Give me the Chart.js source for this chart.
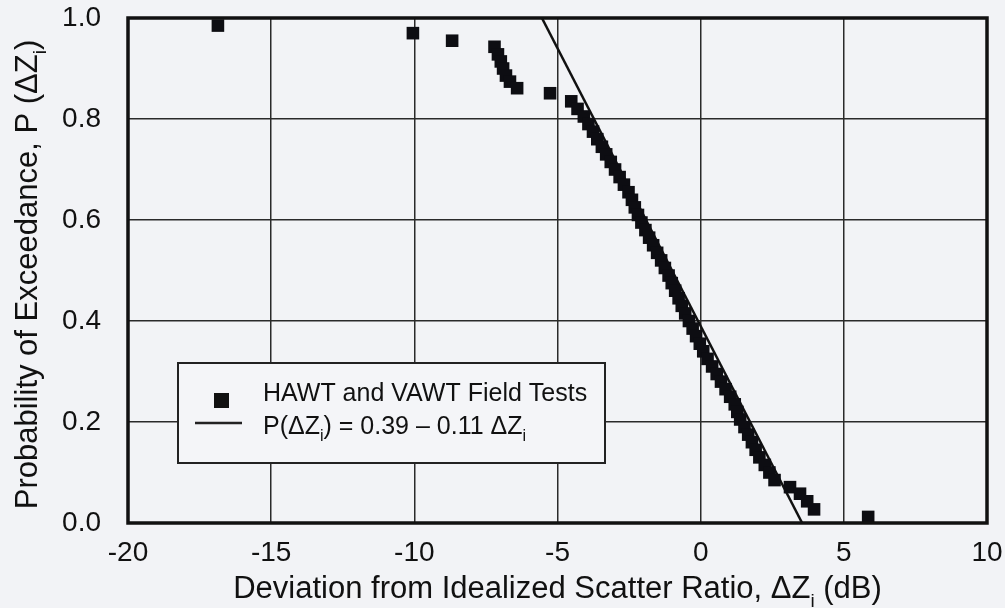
<!DOCTYPE html>
<html>
<head>
<meta charset="utf-8">
<script src="https://cdn.jsdelivr.net/npm/chart.js@4"></script>
<style>
  body { margin: 0; background: #f2f3f6; }
  canvas { display: block; }
</style>
</head>
<body>
<canvas id="chart" width="1005" height="608"></canvas>
<script>
// field test points
const testX = [
  -16.86, -10.05, -8.68,
  -7.20, -7.08, -6.98, -6.90, -6.80, -6.66, -6.41,
  -5.26,
  -4.52, -4.30, -4.08, -3.92, -3.76, -3.61, -3.45, -3.30, -3.14, -2.99,
  -2.83, -2.68, -2.52, -2.40, -2.30, -2.19, -2.07, -1.93, -1.80, -1.66,
  -1.52, -1.38, -1.25, -1.12, -1.01, -0.89, -0.77, -0.66, -0.54, -0.41,
  -0.28, -0.16, -0.03, 0.09, 0.24, 0.40, 0.56, 0.71, 0.87, 1.03,
  1.19, 1.28, 1.38, 1.53, 1.66, 1.79, 1.92, 2.05, 2.24, 2.40, 2.58,
  3.12, 3.47, 3.72, 3.96,
  5.85
];
const testY = [
  0.985, 0.970, 0.955,
  0.943, 0.928, 0.914, 0.900, 0.886, 0.874, 0.861,
  0.851,
  0.835, 0.820, 0.805, 0.790, 0.775, 0.760, 0.745, 0.730, 0.715, 0.700,
  0.685, 0.670, 0.655, 0.640, 0.625, 0.610, 0.595, 0.580, 0.565, 0.550,
  0.535, 0.520, 0.505, 0.490, 0.475, 0.460, 0.445, 0.430, 0.415, 0.400,
  0.385, 0.370, 0.355, 0.340, 0.325, 0.310, 0.295, 0.280, 0.265, 0.250,
  0.235, 0.220, 0.205, 0.190, 0.175, 0.160, 0.145, 0.130, 0.115, 0.100, 0.085,
  0.071, 0.058, 0.043, 0.027,
  0.012
];

// fitted line P = 0.39 - 0.11 dZ, end points where it leaves the frame
const fitX = [-5.545, 3.545];
const fitY = [1.0, 0.0];

const xTicks = [-20, -15, -10, -5, 0, 5, 10];
const yTicks = [0, 0.2, 0.4, 0.6, 0.8, 1.0];

const FONT = '"Liberation Sans", Arial, sans-serif';

// text with subscript parts
function drawRich(ctx, parts, x, y, size, align) {
  let total = 0;
  parts.forEach(p => {
    ctx.font = (p.sub ? Math.round(size * 0.62) : size) + 'px ' + FONT;
    p.w = ctx.measureText(p.t).width;
    total += p.w;
  });
  let cx = align === 'left' ? x : x - total / 2;
  ctx.textAlign = 'left';
  ctx.textBaseline = 'alphabetic';
  parts.forEach(p => {
    ctx.font = (p.sub ? Math.round(size * 0.62) : size) + 'px ' + FONT;
    ctx.fillText(p.t, cx, y + (p.sub ? size * 0.28 : 0));
    cx += p.w;
  });
}

const paperPlugin = {
  id: 'paper',
  beforeDraw(chart) {
    const ctx = chart.ctx;
    ctx.save();
    ctx.fillStyle = '#f2f3f6';
    ctx.fillRect(0, 0, chart.width, chart.height);
    ctx.restore();
  },
  afterDraw(chart) {
    const ctx = chart.ctx;
    const a = chart.chartArea;
    ctx.save();
    ctx.strokeStyle = '#111';
    ctx.lineWidth = 3.5;
    ctx.strokeRect(a.left, a.top, a.right - a.left, a.bottom - a.top);

    ctx.fillStyle = '#111';
    // x title
    drawRich(ctx, [
      { t: 'Deviation from Idealized Scatter Ratio, \u0394Z' },
      { t: 'i', sub: true },
      { t: ' (dB)' }
    ], (a.left + a.right) / 2, 598, 31);

    // y title
    ctx.save();
    ctx.translate(37, (a.top + a.bottom) / 2 + 4);
    ctx.rotate(-Math.PI / 2);
    drawRich(ctx, [
      { t: 'Probability of Exceedance, P (\u0394Z' },
      { t: 'i', sub: true },
      { t: ')' }
    ], 0, 0, 31);
    ctx.restore();

    // legend box
    const lx = a.left + 50, ly = a.top + 345, lw = 427, lh = 100;
    ctx.fillStyle = '#f4f5f8';
    ctx.fillRect(lx, ly, lw, lh);
    ctx.lineWidth = 2;
    ctx.strokeStyle = '#222';
    ctx.strokeRect(lx, ly, lw, lh);

    ctx.fillStyle = '#111';
    ctx.fillRect(lx + 36, ly + 30, 15, 15);
    drawRich(ctx, [{ t: 'HAWT and VAWT Field Tests' }], lx + 85, ly + 38, 25, 'left');

    ctx.beginPath();
    ctx.lineWidth = 2.5;
    ctx.moveTo(lx + 17, ly + 60);
    ctx.lineTo(lx + 64, ly + 60);
    ctx.stroke();
    drawRich(ctx, [
      { t: 'P(\u0394Z' },
      { t: 'i', sub: true },
      { t: ') = 0.39 \u2013 0.11 \u0394Z' },
      { t: 'i', sub: true }
    ], lx + 85, ly + 71, 25, 'left');
    ctx.restore();
  }
};

const ctx = document.getElementById('chart').getContext('2d');
new Chart(ctx, {
  type: 'scatter',
  data: {
    datasets: [
      {
        label: 'HAWT and VAWT Field Tests',
        data: testX.map((x, i) => ({ x: x, y: testY[i] })),
        pointStyle: 'rect',
        pointRadius: 8.9,
        pointHoverRadius: 8.9,
        backgroundColor: '#0d0d12',
        borderColor: '#0d0d12',
        borderWidth: 0
      },
      {
        label: 'P(\u0394Zi) = 0.39 \u2013 0.11 \u0394Zi',
        type: 'line',
        data: fitX.map((x, i) => ({ x: x, y: fitY[i] })),
        borderColor: '#111',
        borderWidth: 2.5,
        pointRadius: 0,
        fill: false
      }
    ]
  },
  options: {
    responsive: false,
    animation: false,
    layout: { padding: { left: 0, top: 18, right: 18, bottom: 0 } },
    plugins: {
      legend: { display: false },
      tooltip: { enabled: false }
    },
    scales: {
      x: {
        type: 'linear',
        min: -20,
        max: 10,
        afterBuildTicks: s => { s.ticks = xTicks.map(v => ({ value: v })); },
        afterFit: s => { s.height = 85; s.paddingLeft = 0; s.paddingRight = 0; },
        grid: { color: '#2a2a2a', lineWidth: 1.5, drawTicks: false },
        border: { display: false },
        ticks: {
          padding: 13,
          color: '#111',
          font: { family: FONT, size: 28 },
          maxRotation: 0
        }
      },
      y: {
        min: 0,
        max: 1,
        afterBuildTicks: s => { s.ticks = yTicks.map(v => ({ value: v })); },
        afterFit: s => { s.width = 128; s.paddingTop = 0; s.paddingBottom = 0; },
        grid: { color: '#2a2a2a', lineWidth: 1.5, drawTicks: false },
        border: { display: false },
        ticks: {
          padding: 27,
          color: '#111',
          font: { family: FONT, size: 28 },
          callback: v => v.toFixed(1)
        }
      }
    }
  },
  plugins: [paperPlugin]
});
</script>
</body>
</html>
